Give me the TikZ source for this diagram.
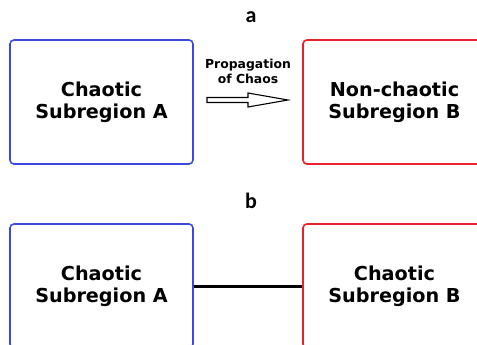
\documentclass[tikz,border=0pt]{standalone}
\usepackage{fontspec}
\setmainfont{DejaVu Sans}
\newfontfamily\labelfont{Carlito}
\definecolor{regblue}{RGB}{62,72,225}
\definecolor{regred}{RGB}{232,32,42}

\begin{document}
\begin{tikzpicture}[x=1pt, y=-1pt]
\tikzstyle{regionbox}=[draw, line width=1.6pt, rounded corners=4pt, minimum width=183pt, minimum height=124pt, align=center, font=\bfseries\fontsize{19.2}{22}\selectfont]
\tikzstyle{panel}=[anchor=base, font=\labelfont\bfseries\fontsize{22}{24}\selectfont]
    \clip (0,0) rectangle (477,345);
    % panel a
    \node[panel] (la) at (251,23) {a};
    \node[regionbox, regblue] (ca) at (101.5,102) {\textcolor{black}{Chaotic}\\\textcolor{black}{Subregion A}};
    \node[regionbox, regred] (nb) at (394.5,102) {\textcolor{black}{Non-chaotic}\\\textcolor{black}{Subregion B}};
    \node[align=center, font=\bfseries\fontsize{12.4}{14.5}\selectfont] (prop) at (248,71.3) {Propagation\\of Chaos};
    \coordinate (tail) at (207,100);
    \coordinate (tip) at (288,100);
    \draw[line width=1.1pt, line join=miter] ([yshift=2.5pt]tail) -- ++(41,0) -- ++(0,-4.5) -- (tip) -- ++(-40,7) -- ++(0,-4.5) -- ([yshift=-2.5pt]tail) -- cycle;
    % panel b
    \node[panel] (lb) at (251,208) {b};
    \node[regionbox, regblue] (cb1) at (101.5,286) {\textcolor{black}{Chaotic}\\\textcolor{black}{Subregion A}};
    \node[regionbox, regred] (cb2) at (394.5,286) {\textcolor{black}{Chaotic}\\\textcolor{black}{Subregion B}};
    \draw[line width=3pt] (cb1) -- (cb2);
\end{tikzpicture}
\end{document}
